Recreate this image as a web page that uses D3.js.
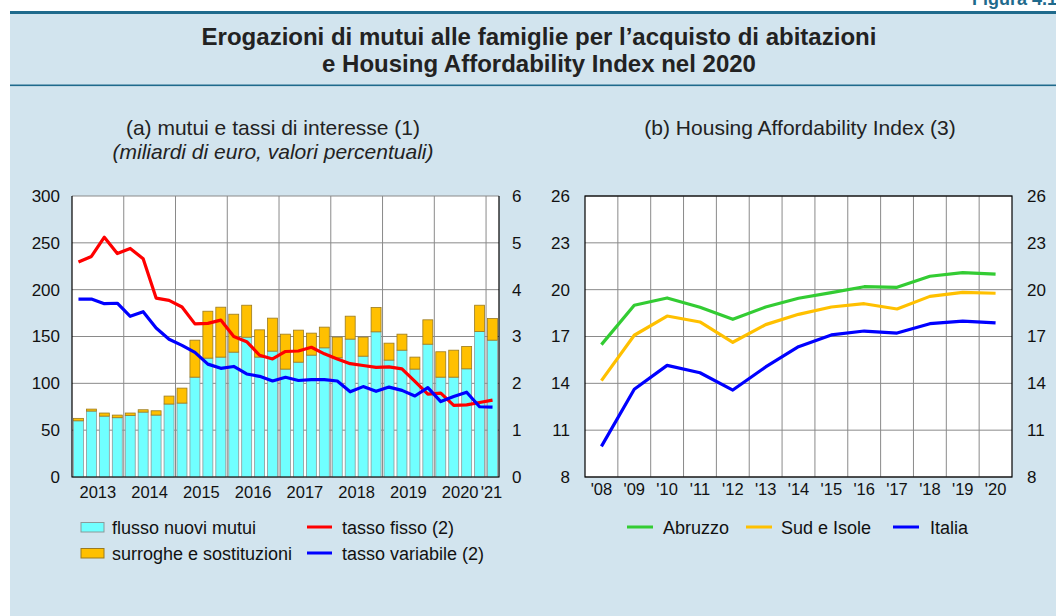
<!DOCTYPE html>
<html>
<head>
<meta charset="utf-8">
<script src="https://cdn.jsdelivr.net/npm/d3@7"></script>
<style>
  body { margin: 0; background: #fff; }
  svg { display: block; font-family: "Liberation Sans", Arial, sans-serif; }
</style>
</head>
<body>
<div id="chart"></div>
<script>
// quarters from 2013Q1 to 2021Q1
const quarters = ['2013Q1','2013Q2','2013Q3','2013Q4','2014Q1','2014Q2','2014Q3','2014Q4',
  '2015Q1','2015Q2','2015Q3','2015Q4','2016Q1','2016Q2','2016Q3','2016Q4',
  '2017Q1','2017Q2','2017Q3','2017Q4','2018Q1','2018Q2','2018Q3','2018Q4',
  '2019Q1','2019Q2','2019Q3','2019Q4','2020Q1','2020Q2','2020Q3','2020Q4','2021Q1'];
const yearLabels = ['2013','2014','2015','2016','2017','2018','2019','2020',"'21"];

// billions of euro
const newLoans = [60, 70.4, 65, 63.3, 65.8, 69.3, 66.1, 77.9, 78.9, 106.6, 126.9, 128, 133.3, 149.3, 128, 134.4,
  115.2, 122.6, 130.1, 137.9, 127.3, 147.2, 129, 155, 124.8, 135.4, 115.2, 141.8, 106.6, 106.6, 115.5, 155.4, 146.1];
const surrogates = [2.6, 2.1, 3.3, 2.8, 2.5, 2.5, 4.6, 8.5, 16, 39.5, 50.1, 53.3, 40.5, 34.1, 29.1, 35.2,
  37.3, 34.2, 23.5, 22.1, 22, 24.5, 20.3, 26, 18.1, 17.1, 12.8, 26, 27.1, 28.8, 23.9, 28, 23.1];
// percent
const fixedRate = [4.59, 4.71, 5.12, 4.77, 4.88, 4.66, 3.82, 3.77, 3.63, 3.27, 3.28, 3.35, 3.0, 2.89, 2.60, 2.52,
  2.68, 2.69, 2.77, 2.63, 2.52, 2.42, 2.38, 2.34, 2.35, 2.31, 2.04, 1.77, 1.79, 1.53, 1.54, 1.59, 1.64];
const variableRate = [3.80, 3.80, 3.70, 3.71, 3.43, 3.53, 3.18, 2.94, 2.81, 2.66, 2.41, 2.32, 2.36, 2.20, 2.15, 2.05,
  2.13, 2.06, 2.08, 2.08, 2.05, 1.82, 1.93, 1.83, 1.92, 1.85, 1.73, 1.91, 1.61, 1.72, 1.81, 1.50, 1.49];

// Housing Affordability Index
const haiYears = ["'08","'09","'10","'11","'12","'13","'14","'15","'16","'17","'18","'19","'20"];
const abruzzo = [16.48, 19.0, 19.47, 18.87, 18.1, 18.89, 19.45, 19.81, 20.19, 20.15, 20.86, 21.09, 21.0];
const sudIsole = [14.17, 17.08, 18.31, 17.93, 16.63, 17.76, 18.42, 18.89, 19.10, 18.76, 19.57, 19.83, 19.77];
const italia = [9.96, 13.62, 15.15, 14.68, 13.57, 15.05, 16.35, 17.10, 17.35, 17.22, 17.82, 17.99, 17.87];

const W = 1056, H = 616;
const bg = '#d2e4ee', rule = '#1f6a8c', grid = '#8a8a8a';

const svg = d3.select('#chart').append('svg').attr('width', W).attr('height', H);

// background panel and rules
svg.append('rect').attr('x', 10).attr('y', 12).attr('width', W - 10).attr('height', H - 12).attr('fill', bg);
svg.append('rect').attr('x', 10).attr('y', 11).attr('width', W - 10).attr('height', 3).attr('fill', rule);
svg.append('rect').attr('x', 10).attr('y', 84.5).attr('width', W - 10).attr('height', 1.6).attr('fill', rule);
svg.append('text').attr('x', 1057).attr('y', 5).attr('text-anchor', 'end')
  .attr('font-size', 18).attr('font-weight', 'bold').attr('fill', rule).text('Figura 4.1');

// title
svg.append('text').attr('x', 539).attr('y', 45).attr('text-anchor', 'middle')
  .attr('font-size', 24).attr('font-weight', 'bold').attr('fill', '#222')
  .text('Erogazioni di mutui alle famiglie per l’acquisto di abitazioni');
svg.append('text').attr('x', 539).attr('y', 72).attr('text-anchor', 'middle')
  .attr('font-size', 24).attr('font-weight', 'bold').attr('fill', '#222')
  .text('e Housing Affordability Index nel 2020');

// subtitles
svg.append('text').attr('x', 273).attr('y', 135).attr('text-anchor', 'middle')
  .attr('font-size', 21).attr('fill', '#222').text('(a) mutui e tassi di interesse (1)');
svg.append('text').attr('x', 273).attr('y', 159).attr('text-anchor', 'middle')
  .attr('font-size', 21).attr('font-style', 'italic').attr('fill', '#222').text('(miliardi di euro, valori percentuali)');
svg.append('text').attr('x', 800).attr('y', 135).attr('text-anchor', 'middle')
  .attr('font-size', 21).attr('fill', '#222').text('(b) Housing Affordability Index (3)');

// ---------- panel (a) ----------
const a = { left: 72, right: 499, top: 196, bottom: 477 };
const gA = svg.append('g');
gA.append('rect').attr('x', a.left).attr('y', a.top).attr('width', a.right - a.left).attr('height', a.bottom - a.top).attr('fill', '#fff');

const xA = d3.scaleBand().domain(quarters).range([a.left, a.right]).paddingInner(0.23).paddingOuter(0.115);
const yA = d3.scaleLinear().domain([0, 300]).range([a.bottom, a.top]);
const yR = d3.scaleLinear().domain([0, 6]).range([a.bottom, a.top]);
const gap = (xA.step() - xA.bandwidth()) / 2;

// gridlines
gA.append('g').selectAll('line').data(yA.ticks(6)).join('line')
  .attr('x1', a.left).attr('x2', a.right).attr('y1', d => yA(d)).attr('y2', d => yA(d))
  .attr('stroke', grid).attr('stroke-width', 1);
const yearStarts = quarters.filter((q, i) => i > 0 && q.endsWith('Q1'));
gA.append('g').selectAll('line').data(yearStarts).join('line')
  .attr('x1', d => xA(d) - gap).attr('x2', d => xA(d) - gap).attr('y1', a.top).attr('y2', a.bottom)
  .attr('stroke', grid).attr('stroke-width', 1);

// stacked bars
const rows = quarters.map((q, i) => ({ q, nuovi: newLoans[i], surroghe: surrogates[i] }));
const stack = d3.stack().keys(['nuovi', 'surroghe'])(rows);
const fills = { nuovi: '#70ffff', surroghe: '#ffc000' };
const strokes = { nuovi: '#8a9a9a', surroghe: '#9a7a20' };
gA.append('g').selectAll('g').data(stack).join('g')
  .attr('fill', d => fills[d.key]).attr('stroke', d => strokes[d.key]).attr('stroke-width', 0.8)
  .selectAll('rect').data(d => d).join('rect')
  .attr('x', d => xA(d.data.q)).attr('width', xA.bandwidth())
  .attr('y', d => yA(d[1])).attr('height', d => yA(d[0]) - yA(d[1]));

// rate lines
const lineA = d3.line().x((d, i) => xA(quarters[i]) + xA.bandwidth() / 2).y(d => yR(d));
gA.append('path').datum(fixedRate).attr('d', lineA).attr('fill', 'none').attr('stroke', '#ff0000').attr('stroke-width', 3.2).attr('stroke-linejoin', 'round');
gA.append('path').datum(variableRate).attr('d', lineA).attr('fill', 'none').attr('stroke', '#0000ff').attr('stroke-width', 3.2).attr('stroke-linejoin', 'round');

// frame
gA.append('path').attr('d', `M${a.left},${a.top}V${a.bottom}H${a.right}V${a.top}`).attr('fill', 'none').attr('stroke', '#000').attr('stroke-width', 1.2);

// axes
const axL = gA.append('g').attr('transform', `translate(${a.left},0)`).call(d3.axisLeft(yA).ticks(6).tickSize(0).tickPadding(12));
const axR = gA.append('g').attr('transform', `translate(${a.right},0)`).call(d3.axisRight(yR).ticks(6).tickSize(0).tickPadding(13));
[axL, axR].forEach(ax => {
  ax.select('.domain').remove();
  ax.selectAll('text').attr('font-size', 17).attr('fill', '#111').attr('font-family', '"Liberation Sans", Arial, sans-serif');
});

// year labels
const yearPos = yearLabels.map((lab, k) => {
  const qs = quarters.slice(k * 4, k * 4 + 4);
  const x0 = xA(qs[0]) - gap, x1 = xA(qs[qs.length - 1]) + xA.bandwidth() + gap;
  return { lab, x: (x0 + x1) / 2 };
});
gA.append('g').selectAll('text').data(yearPos).join('text')
  .attr('x', d => d.lab === "'21" ? d.x - 1 : d.x).attr('y', 498).attr('text-anchor', 'middle')
  .attr('font-size', 16.5).attr('fill', '#111').text(d => d.lab);

// legend (a)
const legA = gA.append('g');
legA.append('rect').attr('x', 81).attr('y', 522.5).attr('width', 23).attr('height', 9.5).attr('fill', fills.nuovi).attr('stroke', strokes.nuovi);
legA.append('rect').attr('x', 81).attr('y', 548.5).attr('width', 23).attr('height', 9.5).attr('fill', fills.surroghe).attr('stroke', strokes.surroghe);
legA.append('text').attr('x', 112).attr('y', 533.5).attr('font-size', 18).attr('fill', '#111').text('flusso nuovi mutui');
legA.append('text').attr('x', 112).attr('y', 559.5).attr('font-size', 18).attr('fill', '#111').text('surroghe e sostituzioni');
legA.append('line').attr('x1', 307).attr('x2', 332).attr('y1', 527).attr('y2', 527).attr('stroke', '#ff0000').attr('stroke-width', 3);
legA.append('line').attr('x1', 307).attr('x2', 332).attr('y1', 553).attr('y2', 553).attr('stroke', '#0000ff').attr('stroke-width', 3);
legA.append('text').attr('x', 342).attr('y', 533.5).attr('font-size', 18).attr('fill', '#111').text('tasso fisso (2)');
legA.append('text').attr('x', 342).attr('y', 559.5).attr('font-size', 18).attr('fill', '#111').text('tasso variabile (2)');

// ---------- panel (b) ----------
const b = { left: 585, right: 1012, top: 196, bottom: 477 };
const gB = svg.append('g');
gB.append('rect').attr('x', b.left).attr('y', b.top).attr('width', b.right - b.left).attr('height', b.bottom - b.top).attr('fill', '#fff');

const xB = d3.scaleBand().domain(haiYears).range([b.left, b.right]);
const yB = d3.scaleLinear().domain([8, 26]).range([b.bottom, b.top]);
const bTicks = d3.range(8, 27, 3);

gB.append('g').selectAll('line').data(bTicks).join('line')
  .attr('x1', b.left).attr('x2', b.right).attr('y1', d => yB(d)).attr('y2', d => yB(d))
  .attr('stroke', grid).attr('stroke-width', 1);
gB.append('g').selectAll('line').data(haiYears.slice(1)).join('line')
  .attr('x1', d => xB(d)).attr('x2', d => xB(d)).attr('y1', b.top).attr('y2', b.bottom)
  .attr('stroke', grid).attr('stroke-width', 1);

const lineB = d3.line().x((d, i) => xB(haiYears[i]) + xB.bandwidth() / 2).y(d => yB(d));
const haiSeries = [
  { name: 'Abruzzo', values: abruzzo, color: '#33cc33' },
  { name: 'Sud e Isole', values: sudIsole, color: '#ffc000' },
  { name: 'Italia', values: italia, color: '#0000ff' }
];
gB.append('g').selectAll('path').data(haiSeries).join('path')
  .attr('d', d => lineB(d.values)).attr('fill', 'none').attr('stroke', d => d.color)
  .attr('stroke-width', 3.2).attr('stroke-linejoin', 'round');

gB.append('rect').attr('x', b.left).attr('y', b.top).attr('width', b.right - b.left).attr('height', b.bottom - b.top)
  .attr('fill', 'none').attr('stroke', '#000').attr('stroke-width', 1.2);

const bL = gB.append('g').attr('transform', `translate(${b.left},0)`).call(d3.axisLeft(yB).tickValues(bTicks).tickSize(0).tickPadding(15));
const bR = gB.append('g').attr('transform', `translate(${b.right},0)`).call(d3.axisRight(yB).tickValues(bTicks).tickSize(0).tickPadding(15));
const bX = gB.append('g').attr('transform', `translate(0,${b.bottom})`).call(d3.axisBottom(xB).tickSize(0).tickPadding(6));
[bL, bR, bX].forEach(ax => {
  ax.select('.domain').remove();
  ax.selectAll('text').attr('fill', '#111').attr('font-family', '"Liberation Sans", Arial, sans-serif');
});
bL.selectAll('text').attr('font-size', 17);
bR.selectAll('text').attr('font-size', 17);
bX.selectAll('text').attr('font-size', 16.5);

// legend (b)
const legB = gB.append('g');
const legBPos = [{ x: 627, tx: 663 }, { x: 746, tx: 781 }, { x: 893, tx: 930 }];
haiSeries.forEach((s, i) => {
  legB.append('line').attr('x1', legBPos[i].x).attr('x2', legBPos[i].x + 26).attr('y1', 527).attr('y2', 527)
    .attr('stroke', s.color).attr('stroke-width', 3);
  legB.append('text').attr('x', legBPos[i].tx).attr('y', 533.5).attr('font-size', 18).attr('fill', '#111').text(s.name);
});
</script>
</body>
</html>
